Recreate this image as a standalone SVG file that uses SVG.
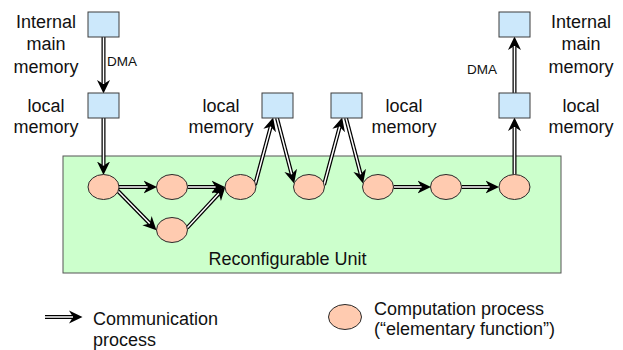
<svg xmlns="http://www.w3.org/2000/svg" width="623" height="350" viewBox="0 0 623 350">
<style>
.box{fill:#cce8fb;stroke:#3c3c3c;stroke-width:1}
.proc{fill:#ffcbb0;stroke:#2a2a2a;stroke-width:1}
.unit{fill:#ccffcc;stroke:#555;stroke-width:1}
.o{fill:none;stroke:#000;stroke-width:4;marker-end:url(#ah)}
.i{fill:none;stroke:#fff;stroke-width:1.5}
text{font-family:"Liberation Sans",Arial,sans-serif;fill:#111}
.lb{font-size:18px;text-anchor:middle}
.dma{font-size:13.5px}
.lg{font-size:18px}
</style>
<defs>
<marker id="ah" markerUnits="userSpaceOnUse" viewBox="0 -7 14 14" markerWidth="14" markerHeight="14" refX="4" refY="0" orient="auto">
<path d="M0,-6.5 L13.5,0 L0,6.5 L4,0 Z" fill="#000"/>
</marker>
</defs>
<rect id="reconfigurable-unit" class="unit" x="63" y="156" width="498" height="117"/>
<text class="lb" x="287.5" y="265">Reconfigurable Unit</text>
<g id="connectors">
<g><path class="o" d="M103.5,37 L103.5,84"/><path class="i" d="M103.5,37 L103.5,84"/></g>
<g><path class="o" d="M103.5,118 L103.5,165.5"/><path class="i" d="M103.5,118 L103.5,165.5"/></g>
<g><path class="o" d="M119,187 L147.5,187"/><path class="i" d="M119,187 L147.5,187"/></g>
<g><path class="o" d="M117,190 L149.8,223.5"/><path class="i" d="M117,190 L149.8,223.5"/></g>
<g><path class="o" d="M187.5,187 L215.5,187"/><path class="i" d="M187.5,187 L215.5,187"/></g>
<g><path class="o" d="M187,228 L218.9,193.6"/><path class="i" d="M187,228 L218.9,193.6"/></g>
<g><path class="o" d="M255,185 L270.7,126.7"/><path class="i" d="M255,185 L270.7,126.7"/></g>
<g><path class="o" d="M277,118 L291.7,174.3"/><path class="i" d="M277,118 L291.7,174.3"/></g>
<g><path class="o" d="M324,185 L339.7,126.7"/><path class="i" d="M324,185 L339.7,126.7"/></g>
<g><path class="o" d="M346,118 L360.7,174.3"/><path class="i" d="M346,118 L360.7,174.3"/></g>
<g><path class="o" d="M393.5,187 L421.5,187"/><path class="i" d="M393.5,187 L421.5,187"/></g>
<g><path class="o" d="M461.5,187 L489.5,187"/><path class="i" d="M461.5,187 L489.5,187"/></g>
<g><path class="o" d="M514.5,174.5 L514.5,127"/><path class="i" d="M514.5,174.5 L514.5,127"/></g>
<g><path class="o" d="M514.5,93 L514.5,46"/><path class="i" d="M514.5,93 L514.5,46"/></g>
<g><path class="o" d="M45,317 L73,317"/><path class="i" d="M45,317 L73,317"/></g>
</g>
<g id="main-mem-left"><rect class="box" x="88" y="12" width="31" height="25"/>
<text class="lb" x="46" y="27.5">Internal</text><text class="lb" x="46" y="50">main</text><text class="lb" x="46" y="72.5">memory</text></g>
<g id="local-mem-1"><rect class="box" x="88" y="93" width="31" height="25"/>
<text class="lb" x="46" y="111.5">local</text><text class="lb" x="46" y="132.5">memory</text></g>
<g id="local-mem-2"><rect class="box" x="262" y="93" width="31" height="25"/>
<text class="lb" x="221" y="111.5">local</text><text class="lb" x="221" y="132.5">memory</text></g>
<g id="local-mem-3"><rect class="box" x="331" y="93" width="31" height="25"/>
<text class="lb" x="404" y="111.5">local</text><text class="lb" x="404" y="132.5">memory</text></g>
<g id="local-mem-4"><rect class="box" x="499" y="93" width="31" height="25"/>
<text class="lb" x="581" y="111.5">local</text><text class="lb" x="581" y="132.5">memory</text></g>
<g id="main-mem-right"><rect class="box" x="499" y="12" width="31" height="25"/>
<text class="lb" x="581" y="27.5">Internal</text><text class="lb" x="581" y="50">main</text><text class="lb" x="581" y="72.5">memory</text></g>
<text class="dma" x="107" y="66">DMA</text>
<text class="dma" x="467" y="74">DMA</text>
<g id="p1"><ellipse class="proc" cx="103.5" cy="187" rx="15.5" ry="12.5"/></g>
<g id="p2"><ellipse class="proc" cx="172" cy="187" rx="15.5" ry="12.5"/></g>
<g id="p3"><ellipse class="proc" cx="172" cy="230" rx="15.5" ry="12.5"/></g>
<g id="p4"><ellipse class="proc" cx="240.5" cy="187" rx="15.5" ry="12.5"/></g>
<g id="p5"><ellipse class="proc" cx="309" cy="187" rx="15.5" ry="12.5"/></g>
<g id="p6"><ellipse class="proc" cx="378" cy="187" rx="15.5" ry="12.5"/></g>
<g id="p7"><ellipse class="proc" cx="446" cy="187" rx="15.5" ry="12.5"/></g>
<g id="p8"><ellipse class="proc" cx="514.5" cy="187" rx="15.5" ry="12.5"/></g>
<g id="legend">
<text class="lg" x="93" y="325">Communication</text>
<text class="lg" x="93" y="346">process</text>
<ellipse class="proc" cx="345" cy="317" rx="16.5" ry="12.5"/>
<text class="lg" x="374" y="315">Computation process</text>
<text class="lg" x="374" y="335">(“elementary function”)</text>
</g>
</svg>
